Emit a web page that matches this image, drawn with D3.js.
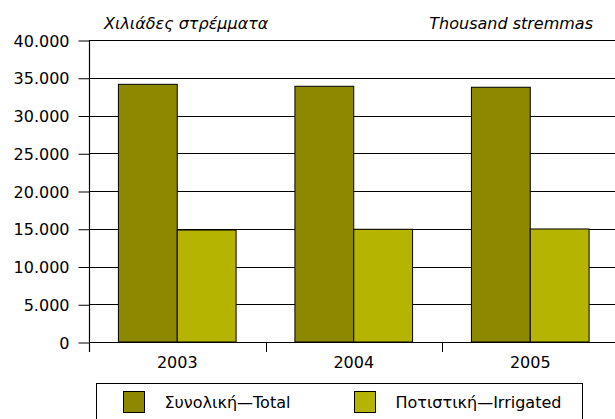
<!DOCTYPE html>
<html>
<head>
<meta charset="utf-8">
<script src="https://cdn.jsdelivr.net/npm/d3@7"></script>
<style>
  body { margin: 0; background: #fff; }
  text { font-family: "DejaVu Sans", sans-serif; fill: #000; }
</style>
</head>
<body>
<svg id="chart" width="615" height="419"></svg>
<script>
var years = ["2003", "2004", "2005"]
var series = ["total", "irrigated"]
var series_labels = ["Συνολική—Total", "Ποτιστική—Irrigated"]
var total_values = [34130, 33870, 33740]
var irrigated_values = [14830, 14930, 14970]
var y_ticks = [0, 5000, 10000, 15000, 20000, 25000, 30000, 35000, 40000]

var colors = { total: "#8c8800", irrigated: "#b5b400" }

var svg = d3.select("#chart")
var plot_left = 89, plot_top = 40, plot_bottom = 342, right_edge = 615
var band_w = 176.5
var font_size = "16px"

var x = d3.scaleBand()
    .domain(years)
    .range([plot_left, plot_left + band_w * years.length])
    .padding(0)
var xs = d3.scaleBand()
    .domain(series)
    .range([band_w / 6, band_w * 5 / 6])
    .padding(0)
var y = d3.scaleLinear()
    .domain([0, 40000])
    .range([plot_bottom, plot_top])

var locale = d3.formatLocale({ decimal: ",", thousands: ".", grouping: [3], currency: ["", ""] })
var fmt = locale.format(",")

// grid lines
svg.append("g").selectAll("line")
    .data(y_ticks).enter()
    .append("line")
    .attr("x1", plot_left)
    .attr("x2", right_edge)
    .attr("y1", function(d){ return Math.round(y(d)) + 0.5 })
    .attr("y2", function(d){ return Math.round(y(d)) + 0.5 })
    .attr("stroke", "#000")
    .attr("stroke-width", 1)

// y axis
var y_axis = svg.append("g")
    .attr("transform", "translate(" + (plot_left + 0.5) + ",0.5)")
    .call(d3.axisLeft(y).tickValues(y_ticks).tickFormat(fmt).tickSize(11).tickPadding(9))
y_axis.select(".domain").remove()
y_axis.attr("font-family", null).attr("font-size", null)
y_axis.selectAll("line").attr("stroke", "#000")
y_axis.selectAll("text")
    .attr("dy", "0.35em")
    .style("font-size", font_size)

// bars
var rows = years.map(function(yr, i){
    return { year: yr, values: [
        { key: "total", value: total_values[i] },
        { key: "irrigated", value: irrigated_values[i] }
    ]}
})
var groups = svg.append("g").selectAll("g")
    .data(rows).enter()
    .append("g")
    .attr("transform", function(d){ return "translate(" + x(d.year) + ",0)" })
groups.selectAll("rect")
    .data(function(d){ return d.values }).enter()
    .append("rect")
    .attr("x", function(d){ return xs(d.key) })
    .attr("y", function(d){ return y(d.value) })
    .attr("width", xs.bandwidth())
    .attr("height", function(d){ return plot_bottom - y(d.value) })
    .attr("fill", function(d){ return colors[d.key] })
    .attr("stroke", "#000")
    .attr("stroke-width", 1)

// axes lines
svg.append("line")
    .attr("x1", plot_left + 0.5).attr("x2", plot_left + 0.5)
    .attr("y1", plot_top).attr("y2", plot_bottom + 10)
    .attr("stroke", "#000").attr("stroke-width", 1.2)
svg.append("line")
    .attr("x1", plot_left).attr("x2", right_edge)
    .attr("y1", plot_bottom + 0.5).attr("y2", plot_bottom + 0.5)
    .attr("stroke", "#000").attr("stroke-width", 1.2)

// x ticks at band boundaries
svg.append("g").selectAll("line")
    .data(years.slice(1)).enter()
    .append("line")
    .attr("x1", function(d){ return Math.round(x(d)) + 0.5 })
    .attr("x2", function(d){ return Math.round(x(d)) + 0.5 })
    .attr("y1", plot_bottom)
    .attr("y2", plot_bottom + 10)
    .attr("stroke", "#000")
svg.append("g").selectAll("text")
    .data(years).enter()
    .append("text")
    .text(function(d){ return d })
    .attr("x", function(d){ return x(d) + x.bandwidth() / 2 })
    .attr("y", 368)
    .attr("text-anchor", "middle")
    .style("font-size", font_size)

// unit labels
svg.append("text")
    .text("Χιλιάδες στρέμματα")
    .attr("x", 104)
    .attr("y", 29)
    .style("font-size", font_size)
    .style("font-style", "italic")
svg.append("text")
    .text("Thousand stremmas")
    .attr("x", 593)
    .attr("y", 29)
    .attr("text-anchor", "end")
    .style("font-size", font_size)
    .style("font-style", "italic")

// legend
var legend = svg.append("g")
legend.append("rect")
    .attr("x", 96.5).attr("y", 383.5)
    .attr("width", 486).attr("height", 50)
    .attr("fill", "none")
    .attr("stroke", "#000")
var legend_x = [123.5, 354.5]
series.forEach(function(s, i){
    legend.append("rect")
        .attr("x", legend_x[i]).attr("y", 391.5)
        .attr("width", 21).attr("height", 21)
        .attr("fill", colors[s])
        .attr("stroke", "#000")
    legend.append("text")
        .text(series_labels[i])
        .attr("x", legend_x[i] + 41)
        .attr("y", 408)
        .style("font-size", font_size)
})
</script>
</body>
</html>
